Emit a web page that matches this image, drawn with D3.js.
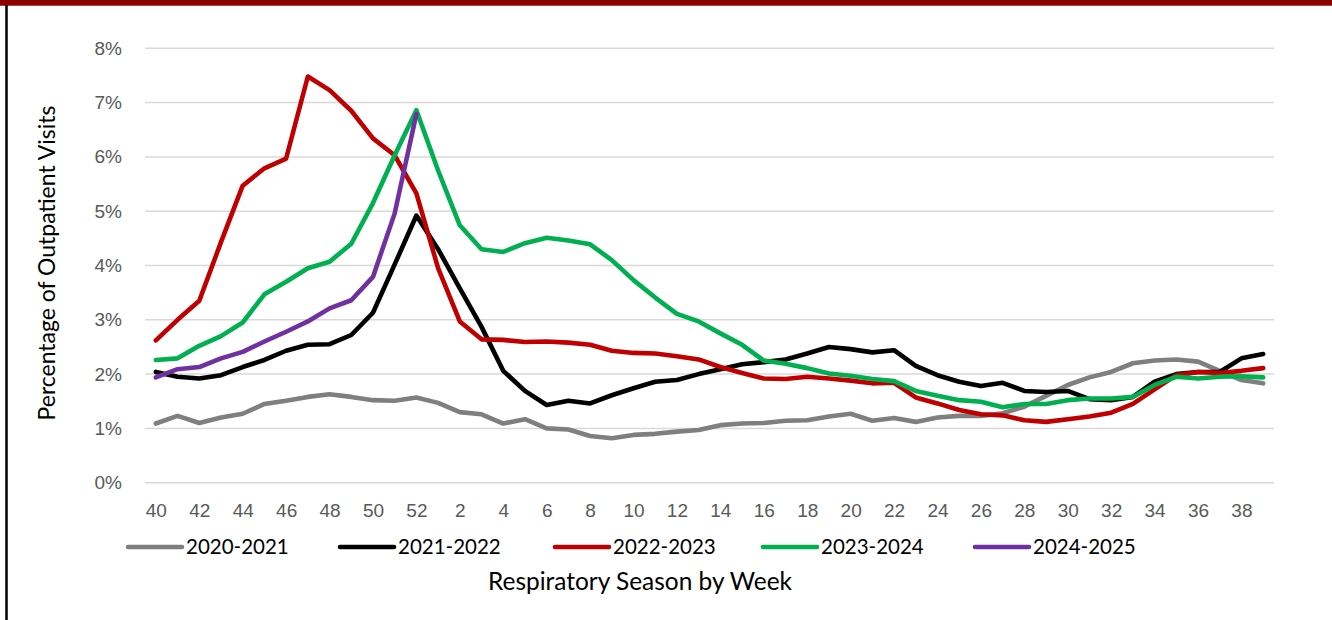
<!DOCTYPE html>
<html>
<head>
<meta charset="utf-8">
<title>Outpatient visits by respiratory season</title>
<style>
body { margin: 0; background: #fff; }
svg { display: block; font-family: Lato, "Open Sans", sans-serif; }
.grid line { stroke: #d9d9d9; stroke-width: 1.5px; }
.tick-label { fill: #595959; font-size: 19px; }
.axis-title { fill: #000; font-size: 21px; }
.legend-label { fill: #000; font-size: 20.5px; }
.season { fill: none; stroke-width: 4.6px; stroke-linejoin: round; stroke-linecap: round; }
</style>
</head>
<body>
<svg width="1332" height="620"></svg>
<script src="https://d3js.org/d3.v7.min.js"></script>
<script>
// weeks of the respiratory season, week 40 through week 39
var weeks = ["40","41","42","43","44","45","46","47","48","49","50","51","52",
  "1","2","3","4","5","6","7","8","9","10","11","12","13","14","15","16","17","18","19","20",
  "21","22","23","24","25","26","27","28","29","30","31","32","33","34","35","36","37","38","39"];

var seasons = ["2020-2021", "2021-2022", "2022-2023", "2023-2024", "2024-2025"];
var colors = ["#7f7f7f", "#000000", "#c00000", "#00b050", "#7030a0"];

var s2020 = [1.09,1.23,1.10,1.20,1.27,1.45,1.51,1.58,1.63,1.58,1.52,1.51,1.57,
  1.47,1.30,1.26,1.09,1.17,1.00,0.98,0.86,0.82,0.88,0.90,0.94,0.97,1.06,1.09,1.10,1.14,1.15,1.22,1.27,
  1.14,1.19,1.12,1.20,1.23,1.23,1.28,1.40,1.60,1.80,1.94,2.04,2.20,2.25,2.27,2.23,2.06,1.89,1.83];
var s2021 = [2.04,1.95,1.92,1.98,2.13,2.26,2.43,2.54,2.55,2.72,3.13,4.02,4.92,
  4.30,3.58,2.87,2.06,1.69,1.43,1.51,1.46,1.61,1.74,1.86,1.89,2.00,2.09,2.18,2.22,2.27,2.38,2.50,2.46,
  2.40,2.44,2.15,1.98,1.86,1.78,1.84,1.69,1.67,1.69,1.54,1.52,1.58,1.86,2.00,2.04,2.04,2.29,2.37];
var s2022 = [2.62,3.00,3.35,4.43,5.47,5.79,5.97,7.48,7.23,6.85,6.34,6.03,5.33,
  3.95,2.97,2.64,2.63,2.59,2.60,2.58,2.54,2.43,2.39,2.38,2.33,2.27,2.13,2.02,1.92,1.91,1.95,1.92,1.88,
  1.83,1.84,1.57,1.46,1.34,1.26,1.24,1.15,1.12,1.17,1.22,1.29,1.45,1.72,1.98,2.04,2.02,2.06,2.11];
var s2023 = [2.26,2.29,2.52,2.70,2.95,3.47,3.70,3.95,4.07,4.40,5.15,6.03,6.86,
  5.75,4.74,4.30,4.25,4.41,4.51,4.46,4.39,4.10,3.73,3.41,3.11,2.97,2.75,2.54,2.25,2.19,2.11,2.01,1.97,
  1.91,1.87,1.69,1.60,1.52,1.49,1.39,1.45,1.45,1.52,1.55,1.55,1.58,1.80,1.95,1.92,1.95,1.96,1.94];
var s2024 = [1.94,2.09,2.13,2.29,2.41,2.60,2.78,2.97,3.21,3.36,3.79,4.96,6.79];

var yTicks = [0,1,2,3,4,5,6,7,8];

var series = [s2020, s2021, s2022, s2023, s2024];

var svg = d3.select("svg");

// header band and left frame
svg.append("rect").attr("x", 0).attr("y", 0).attr("width", 1332).attr("height", 5).attr("fill", "#8b0000");
svg.append("line").attr("x1", 0).attr("x2", 1332).attr("y1", 5.5).attr("y2", 5.5)
  .attr("stroke", "#b84040").attr("stroke-width", 1);
svg.append("line").attr("x1", 6.5).attr("x2", 6.5).attr("y1", 5).attr("y2", 620)
  .attr("stroke", "#000").attr("stroke-width", 2.5);

var x = d3.scalePoint().domain(weeks).range([145, 1274]).padding(0.5);
var y = d3.scaleLinear().domain([0, 8]).range([482.7, 48.3]);

// gridlines
svg.append("g").attr("class", "grid")
  .selectAll("line").data(yTicks).enter().append("line")
  .attr("x1", 145).attr("x2", 1274)
  .attr("y1", d => y(d)).attr("y2", d => y(d));

// y axis
var yAxis = svg.append("g").attr("transform", "translate(122,0)")
  .call(d3.axisLeft(y).tickValues(yTicks).tickSize(0).tickPadding(0).tickFormat(d => d + "%"));
yAxis.select(".domain").remove();
yAxis.selectAll("text").attr("class", "tick-label").attr("font-family", null).attr("font-size", null);

// x axis, every second week labelled
var xAxis = svg.append("g").attr("transform", "translate(0,503)")
  .call(d3.axisBottom(x).tickValues(weeks.filter((d, i) => i % 2 == 0)).tickSize(0).tickPadding(0));
xAxis.select(".domain").remove();
xAxis.selectAll("text").attr("class", "tick-label").attr("font-family", null).attr("font-size", null);

// season lines
var line = d3.line()
  .x((d, i) => x(weeks[i]))
  .y(d => y(d));

svg.append("g").selectAll("path").data(series).enter().append("path")
  .attr("class", "season")
  .attr("stroke", (d, i) => colors[i])
  .attr("d", line);

// legend
var legendX = [128, 340, 555, 763, 975];
var legend = svg.append("g").selectAll("g").data(seasons).enter().append("g")
  .attr("transform", (d, i) => "translate(" + legendX[i] + ",547)");
legend.append("line")
  .attr("x1", 0).attr("x2", 54).attr("y1", 0).attr("y2", 0)
  .attr("stroke", (d, i) => colors[i]).attr("stroke-width", 4.6).attr("stroke-linecap", "round");
legend.append("text")
  .attr("class", "legend-label")
  .attr("x", 58).attr("y", 0).attr("dy", "0.35em")
  .text(d => d);

// axis titles, sized to the reference width
function fit(sel, w) {
  var len = sel.node().getComputedTextLength();
  var size = parseFloat(getComputedStyle(sel.node()).fontSize);
  sel.style("font-size", (size * w / len) + "px");
}

var xTitle = svg.append("text").attr("class", "axis-title")
  .attr("x", 640).attr("y", 590).attr("text-anchor", "middle")
  .text("Respiratory Season by Week");
fit(xTitle, 304);

var yTitle = svg.append("text").attr("class", "axis-title")
  .attr("transform", "translate(55,263) rotate(-90)")
  .attr("text-anchor", "middle")
  .text("Percentage of Outpatient Visits");
fit(yTitle, 315);
</script>
</body>
</html>
